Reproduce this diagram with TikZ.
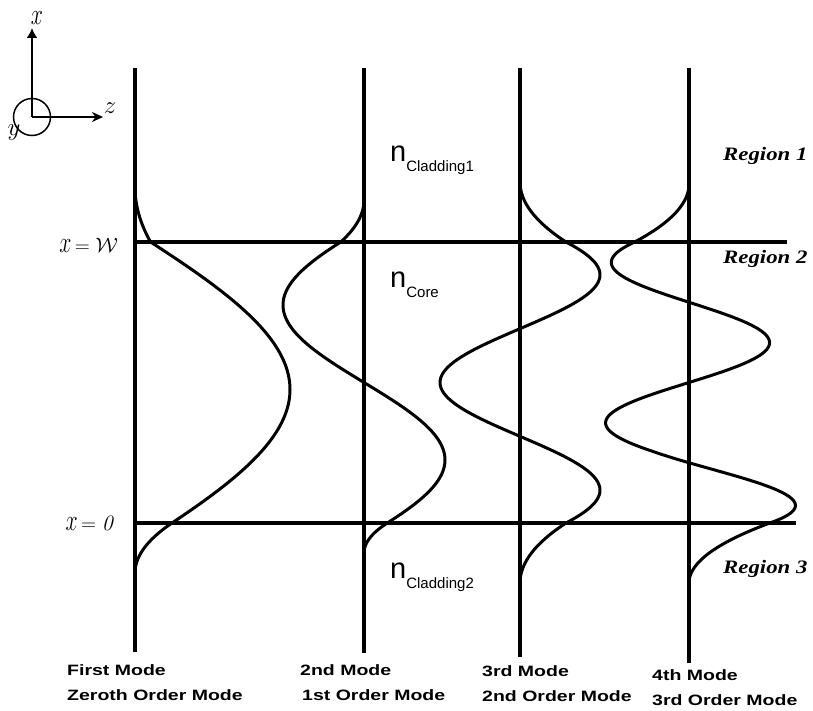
\documentclass[tikz,border=0pt]{standalone}
\usepackage{fontspec}
\usepackage{graphicx}
\usetikzlibrary{arrows.meta}
\newfontfamily\labelfont[FakeStretch=1.3]{Liberation Sans}
\newfontfamily\nfont{Liberation Sans}
\newfontfamily\regionfont[FakeStretch=1.2]{Liberation Serif}

\tikzset{
  guide/.style={line width=4pt},
  bound/.style={line width=4pt},
  mode/.style={line width=3pt,line join=round,line cap=round},
  axis/.style={line width=2pt,-{Stealth[length=11pt,width=10pt]}},
  axlabel/.style={inner sep=0pt,font=\fontsize{24}{24}\selectfont},
  poslabel/.style={anchor=base east,inner sep=0pt,font=\fontsize{22}{22}\selectfont},
  nlabel/.style={anchor=base west,inner sep=0pt,font=\nfont\fontsize{29}{29}\selectfont},
  regionlabel/.style={anchor=base west,inner sep=0pt,font=\regionfont\bfseries\itshape\fontsize{19}{19}\selectfont},
  modelabel/.style={anchor=base west,inner sep=0pt,font=\labelfont\bfseries\fontsize{15}{15}\selectfont}
}
\newcommand{\subtext}[1]{\raisebox{-10pt}{\fontsize{15}{15}\selectfont #1}}
\newcommand{\tallx}{\scalebox{1.05}[1.45]{$x$}}

\begin{document}
\begin{tikzpicture}[x=1pt,y=-1pt,declare function={uu(\t)=(382.5-\t)/140.5;}]
  \useasboundingbox (0,0) rectangle (813,711);
  % coordinate frame
  \coordinate (o) at (32,117);
  \coordinate (xtip) at (32,28);
  \coordinate (ztip) at (103,117);
  \draw[line width=1.5pt] (o) circle[radius=18.5];
  \draw[axis,-{Latex[length=10pt,width=11pt]}] (o) -- (xtip);
  \draw[axis] (o) -- (ztip);
  \node[axlabel,anchor=base,font=\fontsize{20}{20}\selectfont] (xax) at (37,25) {\tallx};
  \node[axlabel] (zax) at (110,108) {$z$};
  \node[axlabel] (yax) at (14,133) {$y$};
  % one guide line for each mode
  \foreach \n/\X/\yb in {1/135/652,2/364/653,3/520/657,4/689/663}{
    \coordinate (top\n) at (\X,68);
    \coordinate (bot\n) at (\X,\yb);
    \draw[guide] (top\n) -- (bot\n);
  }
  % core boundaries
  \coordinate (wl) at (135,242);
  \coordinate (wr) at (787,242);
  \coordinate (zl) at (135,523);
  \coordinate (zr) at (796,523);
  \draw[bound] (wl) -- (wr);
  \draw[bound] (zl) -- (zr);
  \node[poslabel] (wlab) at (118,252) {\tallx$\,=\mathcal{W}$};
  \node[poslabel] (zlab) at (113,530) {\tallx$\,=\mathit{0}$};
  % mode profiles: cosine in the core, tails that run into the guide line
  \foreach \X/\A/\B/\E/\k/\ph/\Lt/\Lb in {135/155/0/0/1.4/0.07/55/50,
      364/81/0/0/2.85/1.5708/42/30, 520/80/0/0/4.1/3.1416/60/60,
      689/82/-5/55/5.5/-1.5708/58/60}{
    \pgfmathsetmacro\ftop{(\A+(\B))*cos(deg(\k+(\ph)))}
    \pgfmathsetmacro\fbot{(\A-(\B)+0.5*(\E))*cos(deg(-\k+(\ph)))}
    \draw[mode] plot[domain=242-\Lt:242,samples=40,variable=\t]
        ({\X+\ftop*(1-(242-\t)/\Lt)^2},\t)
      -- plot[domain=242:523,samples=140,variable=\t]
        ({\X+(\A+(\B)*uu(\t)+(\E)*max(0,-uu(\t)-0.5))*cos(deg(\k*uu(\t)+(\ph)))},\t)
      -- plot[domain=523:523+\Lb,samples=40,variable=\t]
        ({\X+\fbot*(1-(\t-523)/\Lb)^2},\t);
  }
  % refractive indices
  \node[nlabel] (ncl1) at (390,162) {n\subtext{Cladding1}};
  \node[nlabel] (ncore) at (390,287) {n\subtext{Core}};
  \node[nlabel] (ncl2) at (390,578) {n\subtext{Cladding2}};
  % regions
  \node[regionlabel] (reg1) at (723,161) {Region 1};
  \node[regionlabel] (reg2) at (723,263) {Region 2};
  \node[regionlabel] (reg3) at (723,573) {Region 3};
  % mode names
  \node[modelabel] (m1a) at (67,675) {First Mode};
  \node[modelabel] (m1b) at (67,700) {Zeroth Order Mode};
  \node[modelabel] (m2a) at (300,675) {2nd Mode};
  \node[modelabel] (m2b) at (302,700) {1st Order Mode};
  \node[modelabel] (m3a) at (482,676) {3rd Mode};
  \node[modelabel] (m3b) at (482,701) {2nd Order Mode};
  \node[modelabel] (m4a) at (652,680) {4th Mode};
  \node[modelabel] (m4b) at (652,705) {3rd Order Mode};
\end{tikzpicture}
\end{document}
